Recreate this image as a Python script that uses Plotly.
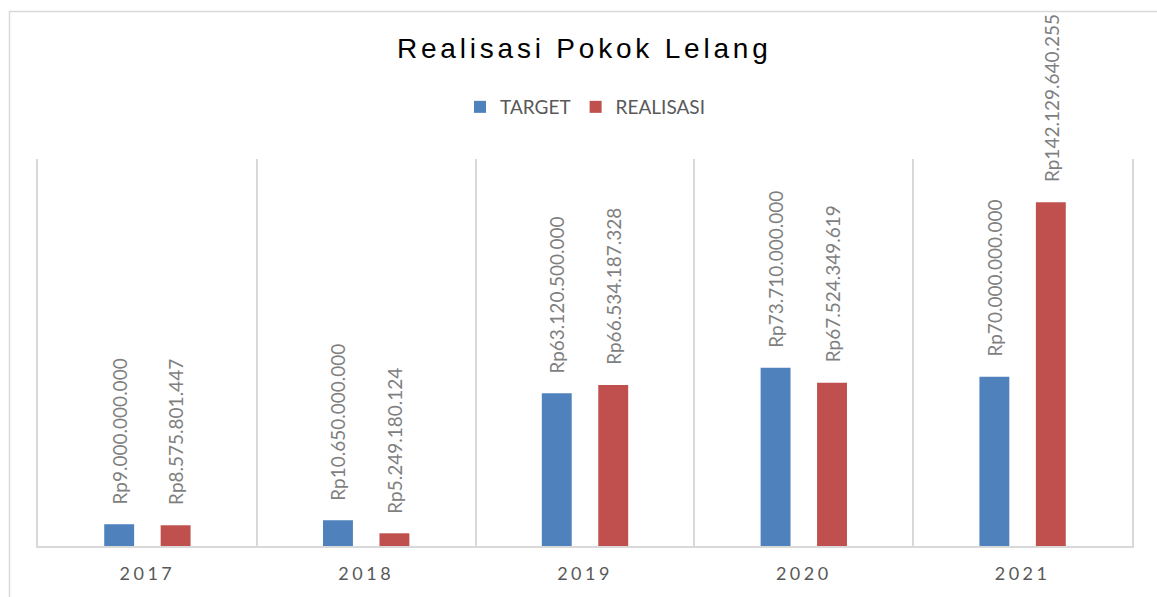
import plotly.graph_objects as go

years = ["2017", "2018", "2019", "2020", "2021"]
target = [9000000000, 10650000000, 63120500000, 73710000000, 70000000000]
realisasi = [8575801447, 5249180124, 66534187328, 67524349619, 142129640255]
series_names = ["TARGET", "REALISASI"]
colors = ["#4f81bd", "#c0504d"]
y_max = 160e9


def rp(v):
    return "Rp" + f"{v:,}".replace(",", ".")


BARGAP = 0.484
BARGROUPGAP = 0.47
W, H = 1157, 597
ML, MR, MT, MB = 38, 25, 159, 51

fig = go.Figure()
for name, vals, col in zip(series_names, [target, realisasi], colors):
    fig.add_trace(go.Bar(x=years, y=vals, name=name, marker_color=col,
                         marker_line_width=0))

# rotated data labels above bars
off = (1 - BARGAP) / 4
annotations = []
for s, vals in enumerate([target, realisasi]):
    sign = -1 if s == 0 else 1
    for i, v in enumerate(vals):
        annotations.append(dict(
            x=i + sign * off, y=v, xref="x", yref="y", text=rp(v),
            textangle=-90, showarrow=False, xanchor="center", yanchor="bottom",
            yshift=18, font=dict(family="Lato", size=19, color="#7f7f7f")))

pw = W - ML - MR
ph = H - MT - MB
border = dict(type="rect", xref="paper", yref="paper",
              x0=(9.5 - ML) / pw, x1=(W + 5 - ML) / pw,
              y0=-(H + 5 - (H - MB)) / ph, y1=((H - MB) - 11.5) / ph,
              line=dict(color="#d9d9d9", width=1.5), fillcolor="rgba(0,0,0,0)",
              layer="below")

fig.update_layout(
    width=W, height=H,
    margin=dict(l=ML, r=MR, t=MT, b=MB),
    paper_bgcolor="white", plot_bgcolor="white",
    barmode="group", bargap=BARGAP, bargroupgap=BARGROUPGAP,
    title=dict(text="Realisasi Pokok Lelang", x=0.505, xanchor="center",
               y=1 - 48 / H, yanchor="middle", yref="container",
               font=dict(family="Liberation Sans", size=28, color="#000000")),
    legend=dict(orientation="h", x=0.5, xanchor="center",
                y=((H - MB) - 107) / ph, yanchor="middle",
                font=dict(family="Lato", size=19, color="#595959"),
                itemclick=False),
    showlegend=True,
    annotations=annotations,
    shapes=[border],
    xaxis=dict(type="category", tickson="boundaries", showgrid=True,
               gridcolor="#d9d9d9", gridwidth=1.5, showline=True,
               linecolor="#d9d9d9", linewidth=1.5, ticks="", ticklen=0,
               ticklabelstandoff=11,
               tickfont=dict(family="Lato", size=18, color="#595959"),
               range=[-0.5, 4.5]),
    yaxis=dict(range=[0, y_max], showgrid=False, showticklabels=False,
               zeroline=False, showline=True, mirror=True,
               linecolor="#d9d9d9", linewidth=1.5, ticks=""),
)

post = """
var st=document.createElement('style');
st.innerHTML='body{margin:0;} .gtitle{letter-spacing:3.8px;} .xtick text{letter-spacing:3.5px;}';
document.head.appendChild(st);
"""
fig.write_html("out.html", post_script=post, config={"displayModeBar": False})
